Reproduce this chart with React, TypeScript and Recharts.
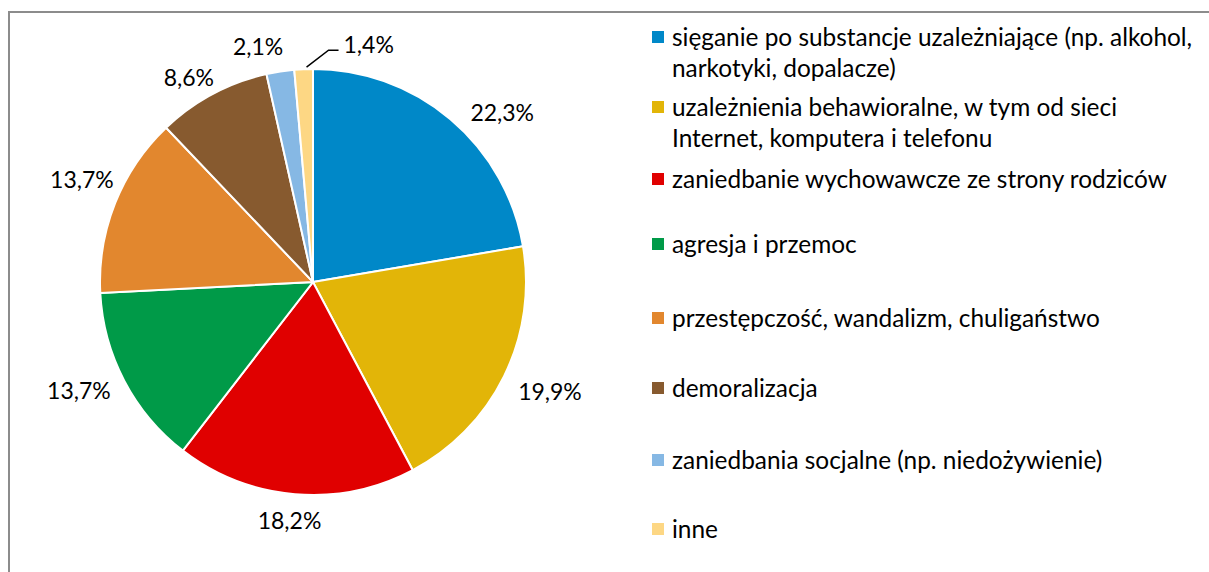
import React from 'react';
import { PieChart, Pie, Cell, Legend } from 'recharts';

const categories = [
  'sięganie po substancje uzależniające (np. alkohol,\nnarkotyki, dopalacze)',
  'uzależnienia behawioralne, w tym od sieci\nInternet, komputera i telefonu',
  'zaniedbanie wychowawcze ze strony rodziców',
  'agresja i przemoc',
  'przestępczość, wandalizm, chuligaństwo',
  'demoralizacja',
  'zaniedbania socjalne (np. niedożywienie)',
  'inne',
];

const shares = [22.3, 19.9, 18.2, 13.7, 13.7, 8.6, 2.1, 1.4];

const colors = [
  '#0088c8', '#e2b508', '#e00000', '#009a48',
  '#e2872e', '#875a2f', '#86b8e4', '#fdd784',
];

const data = categories.map((name, i) => ({ name, value: shares[i] }));

const FONT = 'Lato, "Open Sans", sans-serif';
const RADIAN = Math.PI / 180;

// Excel "best fit" moved a few labels, small nudges per slice
const labelNudge: [number, number][] = [
  [26, 8], [10, 6], [-2, 6], [-10, 0], [4, -17], [-8, 1], [-17, -6], [0, 0],
];

const fmt = (v: number) => v.toFixed(1).replace('.', ',') + '%';

function renderLabel(props: any) {
  const { cx, cy, midAngle, outerRadius, index, value } = props;
  const cos = Math.cos(-midAngle * RADIAN);
  const sin = Math.sin(-midAngle * RADIAN);
  const text = fmt(value);

  if (index === shares.length - 1) {
    // small slice: leader line to the right
    const sx = cx + (outerRadius + 2) * cos + 3;
    const sy = cy + (outerRadius + 2) * sin;
    const ex = sx + 22;
    const ey = sy - 17;
    return (
      <g key={`l-${index}`}>
        <polyline
          points={`${sx},${sy} ${ex},${ey} ${ex + 10},${ey}`}
          fill="none"
          stroke="#000"
          strokeWidth={1.5}
        />
        <text x={ex + 15} y={ey - 6} textAnchor="start" dominantBaseline="central"
          fontFamily={FONT} fontSize={23} fill="#000">
          {text}
        </text>
      </g>
    );
  }

  const w = text.length * 12.8;
  const h = 24;
  const px = cx + (outerRadius + 8) * cos;
  const py = cy + (outerRadius + 8) * sin;
  const x = px + cos * w / 2 + labelNudge[index][0];
  const y = py + sin * h / 2 + labelNudge[index][1];
  return (
    <text key={`l-${index}`} x={x} y={y} textAnchor="middle" dominantBaseline="central"
      fontFamily={FONT} fontSize={23} fill="#000">
      {text}
    </text>
  );
}

const rowHeights = [70, 72, 65, 74, 70, 72, 69, 31];

function LegendList() {
  return (
    <div style={{ fontFamily: FONT, fontSize: 24.4, lineHeight: '31px', color: '#000' }}>
      {categories.map((name, i) => (
        <div key={name} style={{ display: 'flex', height: rowHeights[i] }}>
          <span
            style={{
              width: 12, height: 12, marginTop: 10, marginRight: 8,
              flex: '0 0 12px', background: colors[i],
            }}
          />
          <span style={{ whiteSpace: 'pre', letterSpacing: 0 }}>{name}</span>
        </div>
      ))}
    </div>
  );
}

export default function App() {
  return (
    <div style={{ position: 'absolute', left: 0, top: 0, width: 1209, height: 572, background: '#fff', overflow: 'hidden' }}>
      <div style={{
        position: 'absolute', left: 8, top: 11, width: 1220, height: 600,
        borderTop: '2px solid #8c8c8c', borderLeft: '2px solid #8c8c8c',
      }} />
      <PieChart width={1209} height={572} margin={{ top: 0, right: 0, bottom: 0, left: 0 }}>
        <Pie
          data={data}
          dataKey="value"
          nameKey="name"
          cx={313}
          cy={282}
          outerRadius={213}
          startAngle={90}
          endAngle={-270}
          stroke="#fff"
          strokeWidth={2}
          label={renderLabel}
          labelLine={false}
          isAnimationActive={false}
        >
          {data.map((d, i) => (
            <Cell key={d.name} fill={colors[i]} />
          ))}
        </Pie>
        <Legend
          layout="vertical"
          align="right"
          verticalAlign="top"
          content={() => <LegendList />}
          wrapperStyle={{ left: 652, top: 20.5, width: 557, right: 'auto' }}
        />
      </PieChart>
    </div>
  );
}
